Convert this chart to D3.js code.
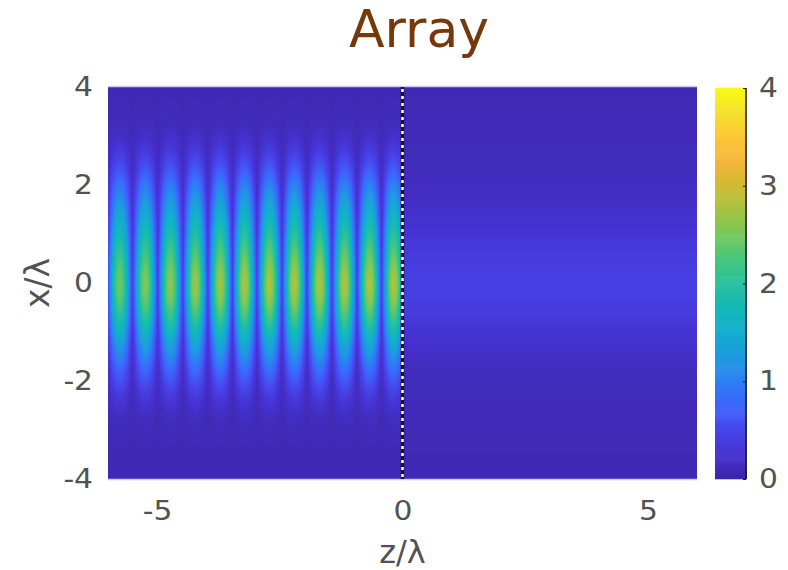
<!DOCTYPE html>
<html>
<head>
<meta charset="utf-8">
<script src="https://cdn.jsdelivr.net/npm/d3@7"></script>
<style>
  body { margin: 0; background: #fff; }
  text { font-family: "DejaVu Sans", sans-serif; }
</style>
</head>
<body>
<svg id="chart" width="788" height="570"></svg>
<script>
// ---- data ----
const zTicks = [-5, 0, 5];
const xTicks = [-4, -2, 0, 2, 4];
const cbTicks = [0, 1, 2, 3, 4];

// centres of the bright standing-wave fringes (z/λ) and their on-axis intensity
const fringeZ    = [-5.76, -5.24, -4.73, -4.22, -3.71, -3.22, -2.71, -2.20, -1.69, -1.18, -0.67, -0.18];
const fringePeak = [2.40, 2.50, 2.58, 2.64, 2.68, 2.72, 2.75, 2.75, 2.75, 2.75, 2.75, 2.75];
const fringeTrough = 0.35;     // on-axis intensity between fringes
const background = 0.08;       // intensity outside the beam

// transverse samples x/λ = 4 … -4 (step 0.25)
const xRows = d3.range(4, -4.001, -0.25);
// relative beam envelope in the incident region (z < 0)
const beamEnvelope = [0, 0, 0.005, 0.02, 0.05, 0.10, 0.17, 0.25, 0.35, 0.44, 0.53, 0.62, 0.71, 0.80, 0.88, 0.95,
                      1.00, 0.97, 0.88, 0.77, 0.64, 0.51, 0.40, 0.30, 0.21, 0.13, 0.07, 0.03, 0.01, 0, 0, 0, 0];
// intensity of the transmitted band (z > 0)
const transmittedBand = [0.08, 0.08, 0.09, 0.09, 0.10, 0.11, 0.12, 0.13, 0.15, 0.18, 0.21, 0.25, 0.29, 0.34, 0.38, 0.41,
                         0.43, 0.42, 0.39, 0.34, 0.28, 0.23, 0.18, 0.15, 0.12, 0.11, 0.10, 0.09, 0.09, 0.09, 0.08, 0.08, 0.08];

const boundaryZ = 0;

// parula-style colour ramp
const parulaStops = ["#3e26a8", "#4531d0", "#4746eb", "#3d63fc", "#2c80f2", "#1e9bde", "#12adcf", "#13b9b6",
                     "#27c09d", "#48c67d", "#75c85c", "#a5c440", "#cfbb31", "#f4b53b", "#fcc737", "#f4e02a", "#f9fb15"];

// ---- layout ----
const svg = d3.select("#chart");
const plot = { left: 108, right: 697, top: 87, bottom: 479 };
const cb = { left: 715, right: 747 };

const x = d3.scaleLinear([-6, 6], [plot.left, plot.right]);
const y = d3.scaleLinear([-4, 4], [plot.bottom, plot.top]);
const color = d3.scaleSequential([0, 4], d3.piecewise(d3.interpolateRgb, parulaStops)).clamp(true);
const cbY = d3.scaleLinear([0, 4], [plot.bottom, plot.top + 1]);

svg.append("rect").attr("width", 788).attr("height", 570).attr("fill", "#fff");

// ---- field ----
const envAt = d3.interpolateBasis(beamEnvelope);
const bandAt = d3.interpolateBasis(transmittedBand);

function fringeAt(z) {
  const n = fringeZ.length;
  const i = d3.bisectLeft(fringeZ, z);
  let z0, z1, p0, p1;
  if (i === 0) {
    z1 = fringeZ[0]; z0 = z1 - (fringeZ[1] - fringeZ[0]); p0 = p1 = fringePeak[0];
  } else if (i >= n) {
    z0 = fringeZ[n - 1]; z1 = z0 + (fringeZ[n - 1] - fringeZ[n - 2]); p0 = p1 = fringePeak[n - 1];
  } else {
    z0 = fringeZ[i - 1]; z1 = fringeZ[i]; p0 = fringePeak[i - 1]; p1 = fringePeak[i];
  }
  const u = (z - z0) / (z1 - z0);
  const c = Math.pow(Math.abs(Math.cos(Math.PI * u)), 1.2);
  const peak = u < 0.5 ? p0 : p1;
  return fringeTrough + (peak - fringeTrough) * c;
}

function intensity(z, xv) {
  const t = (xRows[0] - xv) / (xRows[0] - xRows[xRows.length - 1]);
  if (z < boundaryZ) return background + envAt(t) * fringeAt(z);
  return bandAt(t);
}

const W = plot.right - plot.left, H = plot.bottom - plot.top;
const canvas = document.createElement("canvas");
canvas.width = W; canvas.height = H;
const ctx = canvas.getContext("2d");
const img = ctx.createImageData(W, H);
const lut = d3.range(512).map(k => d3.rgb(color(k / 511 * 4)));
for (let py = 0; py < H; py++) {
  const xv = y.invert(plot.top + py + 0.5);
  for (let px = 0; px < W; px++) {
    const z = x.invert(plot.left + px + 0.5);
    const v = Math.max(0, Math.min(4, intensity(z, xv)));
    const c = lut[Math.round(v / 4 * 511)];
    const o = (py * W + px) * 4;
    img.data[o] = c.r; img.data[o + 1] = c.g; img.data[o + 2] = c.b; img.data[o + 3] = 255;
  }
}
ctx.putImageData(img, 0, 0);

svg.append("image")
  .attr("x", plot.left).attr("y", plot.top)
  .attr("width", W).attr("height", H)
  .attr("preserveAspectRatio", "none")
  .attr("href", canvas.toDataURL());

// frame edges
svg.append("line").attr("x1", plot.left).attr("x2", plot.right).attr("y1", plot.top - 0.5).attr("y2", plot.top - 0.5)
  .attr("stroke", "#cfc9f0").attr("stroke-width", 1.5);
svg.append("line").attr("x1", plot.left).attr("x2", plot.right).attr("y1", plot.bottom + 0.5).attr("y2", plot.bottom + 0.5)
  .attr("stroke", "#cfc9f0").attr("stroke-width", 1.5);

// interface line at z = 0
svg.append("line")
  .attr("x1", x(boundaryZ)).attr("x2", x(boundaryZ)).attr("y1", plot.top).attr("y2", plot.bottom)
  .attr("stroke", "#15153a").attr("stroke-width", 3.5);
svg.append("line")
  .attr("x1", x(boundaryZ)).attr("x2", x(boundaryZ)).attr("y1", plot.top + 2).attr("y2", plot.bottom)
  .attr("stroke", "#ffffff").attr("stroke-width", 2.5).attr("stroke-dasharray", "3,4");

// ---- axes ----
const labelColor = "#525252";
const tickFont = 27;
const stretch = 1.1;
const fmt = d => String(d);

const xAxis = svg.append("g")
  .attr("transform", `translate(0,${plot.bottom})`)
  .call(d3.axisBottom(x).tickValues(zTicks).tickSize(0).tickPadding(22).tickFormat(fmt));
xAxis.select(".domain").remove();
xAxis.selectAll("text").attr("font-size", tickFont).attr("fill", labelColor)
  .attr("transform", `scale(${stretch},1)`).attr("font-family", "DejaVu Sans, sans-serif");

const yAxis = svg.append("g")
  .attr("transform", `translate(${plot.left},0)`)
  .call(d3.axisLeft(y).tickValues(xTicks).tickSize(0).tickPadding(15).tickFormat(fmt));
yAxis.select(".domain").remove();
yAxis.selectAll("text").attr("font-size", tickFont).attr("fill", labelColor)
  .attr("x", -15 / stretch)
  .attr("transform", `scale(${stretch},1)`).attr("font-family", "DejaVu Sans, sans-serif");

// colour bar
const cbStep = 0.01;
svg.append("g").selectAll("rect")
  .data(d3.range(0, 4, cbStep))
  .join("rect")
  .attr("x", cb.left).attr("width", cb.right - cb.left)
  .attr("y", d => cbY(d + cbStep) - 0.3)
  .attr("height", d => cbY(d) - cbY(d + cbStep) + 0.6)
  .attr("fill", d => color(d + cbStep / 2));

svg.append("line").attr("x1", cb.right - 1).attr("x2", cb.right - 1)
  .attr("y1", cbY(4)).attr("y2", cbY(0)).attr("stroke", "#1b1b1b").attr("stroke-width", 1.5);

const cbAxis = svg.append("g")
  .attr("transform", `translate(${cb.right - 1},0)`)
  .call(d3.axisRight(cbY).tickValues(cbTicks).tickSizeInner(-3).tickSizeOuter(0).tickPadding(14).tickFormat(fmt));
cbAxis.select(".domain").remove();
cbAxis.selectAll("line").attr("stroke", "#1b1b1b");
cbAxis.selectAll("text").attr("font-size", tickFont).attr("fill", labelColor)
  .attr("x", 13 / stretch)
  .attr("transform", `scale(${stretch},1)`).attr("font-family", "DejaVu Sans, sans-serif");

// axis titles
svg.append("text")
  .attr("x", x(0)).attr("y", 563)
  .attr("text-anchor", "middle").attr("font-size", 32).attr("fill", labelColor)
  .text("z/λ");

svg.append("text")
  .attr("transform", `translate(49,${y(0)}) rotate(-90)`)
  .attr("text-anchor", "middle").attr("font-size", 33).attr("fill", labelColor)
  .text("x/λ");

// title
svg.append("text")
  .attr("x", 419).attr("y", 47)
  .attr("text-anchor", "middle")
  .attr("font-family", "Liberation Sans, Arial, sans-serif")
  .attr("font-size", 52).attr("fill", "#76380a")
  .text("Array");
</script>
</body>
</html>
